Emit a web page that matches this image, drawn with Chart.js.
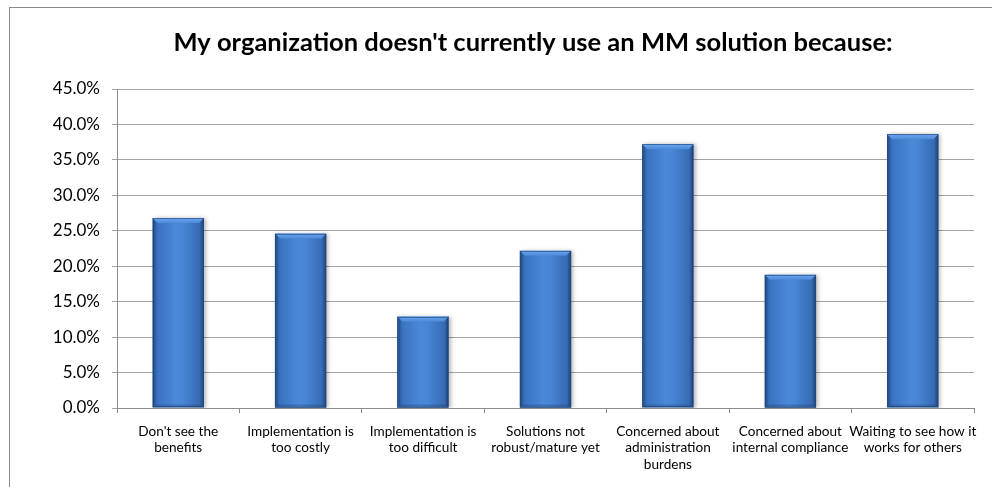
<!DOCTYPE html>
<html>
<head>
<meta charset="utf-8">
<script src="https://cdn.jsdelivr.net/npm/chart.js@4.4.1/dist/chart.umd.min.js"></script>
<style>
  html, body { margin: 0; padding: 0; background: #fff; overflow: hidden; }
  #frame { position: absolute; left: 9px; top: 7px; width: 1100px; height: 600px; border: 1px solid #8a8a8a; }
  #wrap { position: absolute; left: 0; top: 0; width: 992px; height: 487px; }
</style>
</head>
<body>
<div id="frame"></div>
<div id="wrap"><canvas id="chart"></canvas></div>
<script>
const titleText = "My organization doesn't currently use an MM solution because:";
const categories = [
  ["Don't see the", "benefits"],
  ["Implementation is", "too costly"],
  ["Implementation is", "too difficult"],
  ["Solutions not", "robust/mature yet"],
  ["Concerned about", "administration", "burdens"],
  ["Concerned about", "internal compliance"],
  ["Waiting to see how it", "works for others"]
];
const values = [26.8, 24.6, 12.9, 22.2, 37.2, 18.8, 38.6];
const yMin = 0, yMax = 45, yStep = 5;

const FONT = "Lato, 'Liberation Sans', sans-serif";
const BAR_FRACTION = 0.42;

// horizontal shading across each bar, like a rounded column
function barFill(ctx) {
  const chart = ctx.chart;
  const xs = chart.scales.x;
  if (!xs || !chart.chartArea) return '#3f78c4';
  const cx = xs.getPixelForValue(ctx.dataIndex);
  const w = (xs.width / categories.length) * BAR_FRACTION;
  const g = chart.ctx.createLinearGradient(cx - w / 2, 0, cx + w / 2, 0);
  g.addColorStop(0, '#2d5ea3');
  g.addColorStop(0.12, '#3b74c2');
  g.addColorStop(0.45, '#4a88d8');
  g.addColorStop(0.6, '#4785d5');
  g.addColorStop(0.9, '#386cb5');
  g.addColorStop(1, '#2b5896');
  return g;
}

const title = {
  id: 'title',
  afterDraw(chart) {
    const c = chart.ctx;
    c.save();
    c.font = "bold 25.5px " + FONT;
    c.fillStyle = '#000';
    c.textAlign = 'center';
    c.textBaseline = 'middle';
    c.fillText(titleText, 533, 43);
    c.restore();
  }
};

const shadow = {
  id: 'shadow',
  beforeDatasetsDraw(chart) {
    const c = chart.ctx;
    c.save();
    c.shadowColor = 'rgba(0,0,0,0.28)';
    c.shadowBlur = 4;
    c.shadowOffsetX = 2;
    c.shadowOffsetY = 0;
  },
  afterDatasetsDraw(chart) {
    chart.ctx.restore();
  }
};

// bevelled top and edges on every column
const bevel = {
  id: 'bevel',
  afterDatasetsDraw(chart) {
    const c = chart.ctx;
    const b = 5;
    chart.getDatasetMeta(0).data.forEach(bar => {
      const l = bar.x - bar.width / 2, r = bar.x + bar.width / 2;
      const t = bar.y, btm = bar.base;
      c.save();
      const g = c.createLinearGradient(0, t, 0, t + b);
      g.addColorStop(0, '#6aa6ee');
      g.addColorStop(1, '#4c8ad8');
      c.fillStyle = g;
      c.beginPath();
      c.moveTo(l, t); c.lineTo(r, t); c.lineTo(r - b, t + b); c.lineTo(l + b, t + b);
      c.closePath(); c.fill();
      c.fillStyle = 'rgba(25,60,110,0.35)';
      c.beginPath();
      c.moveTo(l, t); c.lineTo(l + 3, t + 3); c.lineTo(l + 3, btm - 3); c.lineTo(l, btm);
      c.closePath(); c.fill();
      c.beginPath();
      c.moveTo(r, t); c.lineTo(r - 3, t + 3); c.lineTo(r - 3, btm - 3); c.lineTo(r, btm);
      c.closePath(); c.fill();
      c.fillStyle = 'rgba(25,60,110,0.3)';
      c.beginPath();
      c.moveTo(l, btm); c.lineTo(l + 3, btm - 3); c.lineTo(r - 3, btm - 3); c.lineTo(r, btm);
      c.closePath(); c.fill();
      c.strokeStyle = 'rgba(30,65,115,0.6)';
      c.lineWidth = 1;
      c.strokeRect(Math.round(l) + 0.5, Math.round(t) + 0.5, Math.round(r - l) - 1, Math.round(btm - t) - 1);
      c.restore();
    });
  }
};

new Chart(document.getElementById('chart'), {
  type: 'bar',
  data: {
    labels: categories,
    datasets: [{
      data: values,
      backgroundColor: barFill,
      borderWidth: 0,
      categoryPercentage: 1,
      barPercentage: BAR_FRACTION
    }]
  },
  options: {
    responsive: true,
    maintainAspectRatio: false,
    animation: false,
    layout: { padding: { top: 89, right: 18, left: 0, bottom: 0 } },
    plugins: {
      legend: { display: false },
      title: { display: false },
      tooltip: { enabled: false }
    },
    scales: {
      x: {
        afterFit(s) { s.height = 79; },
        grid: { drawOnChartArea: false, drawTicks: true, tickLength: 5, color: '#8c8c8c' },
        border: { color: '#8c8c8c' },
        ticks: {
          color: '#000',
          font: { family: FONT, size: 13.6, lineHeight: 1.22 },
          maxRotation: 0,
          autoSkip: false,
          padding: 10
        }
      },
      y: {
        min: yMin,
        max: yMax,
        afterFit(s) { s.width = 117; },
        grid: { color: '#a3a3a3', tickLength: 5 },
        border: { color: '#8c8c8c' },
        ticks: {
          stepSize: yStep,
          color: '#000',
          padding: 12,
          font: { family: FONT, size: 17 },
          callback: v => v.toFixed(1) + '%'
        }
      }
    }
  },
  plugins: [shadow, bevel, title]
});
</script>
</body>
</html>
